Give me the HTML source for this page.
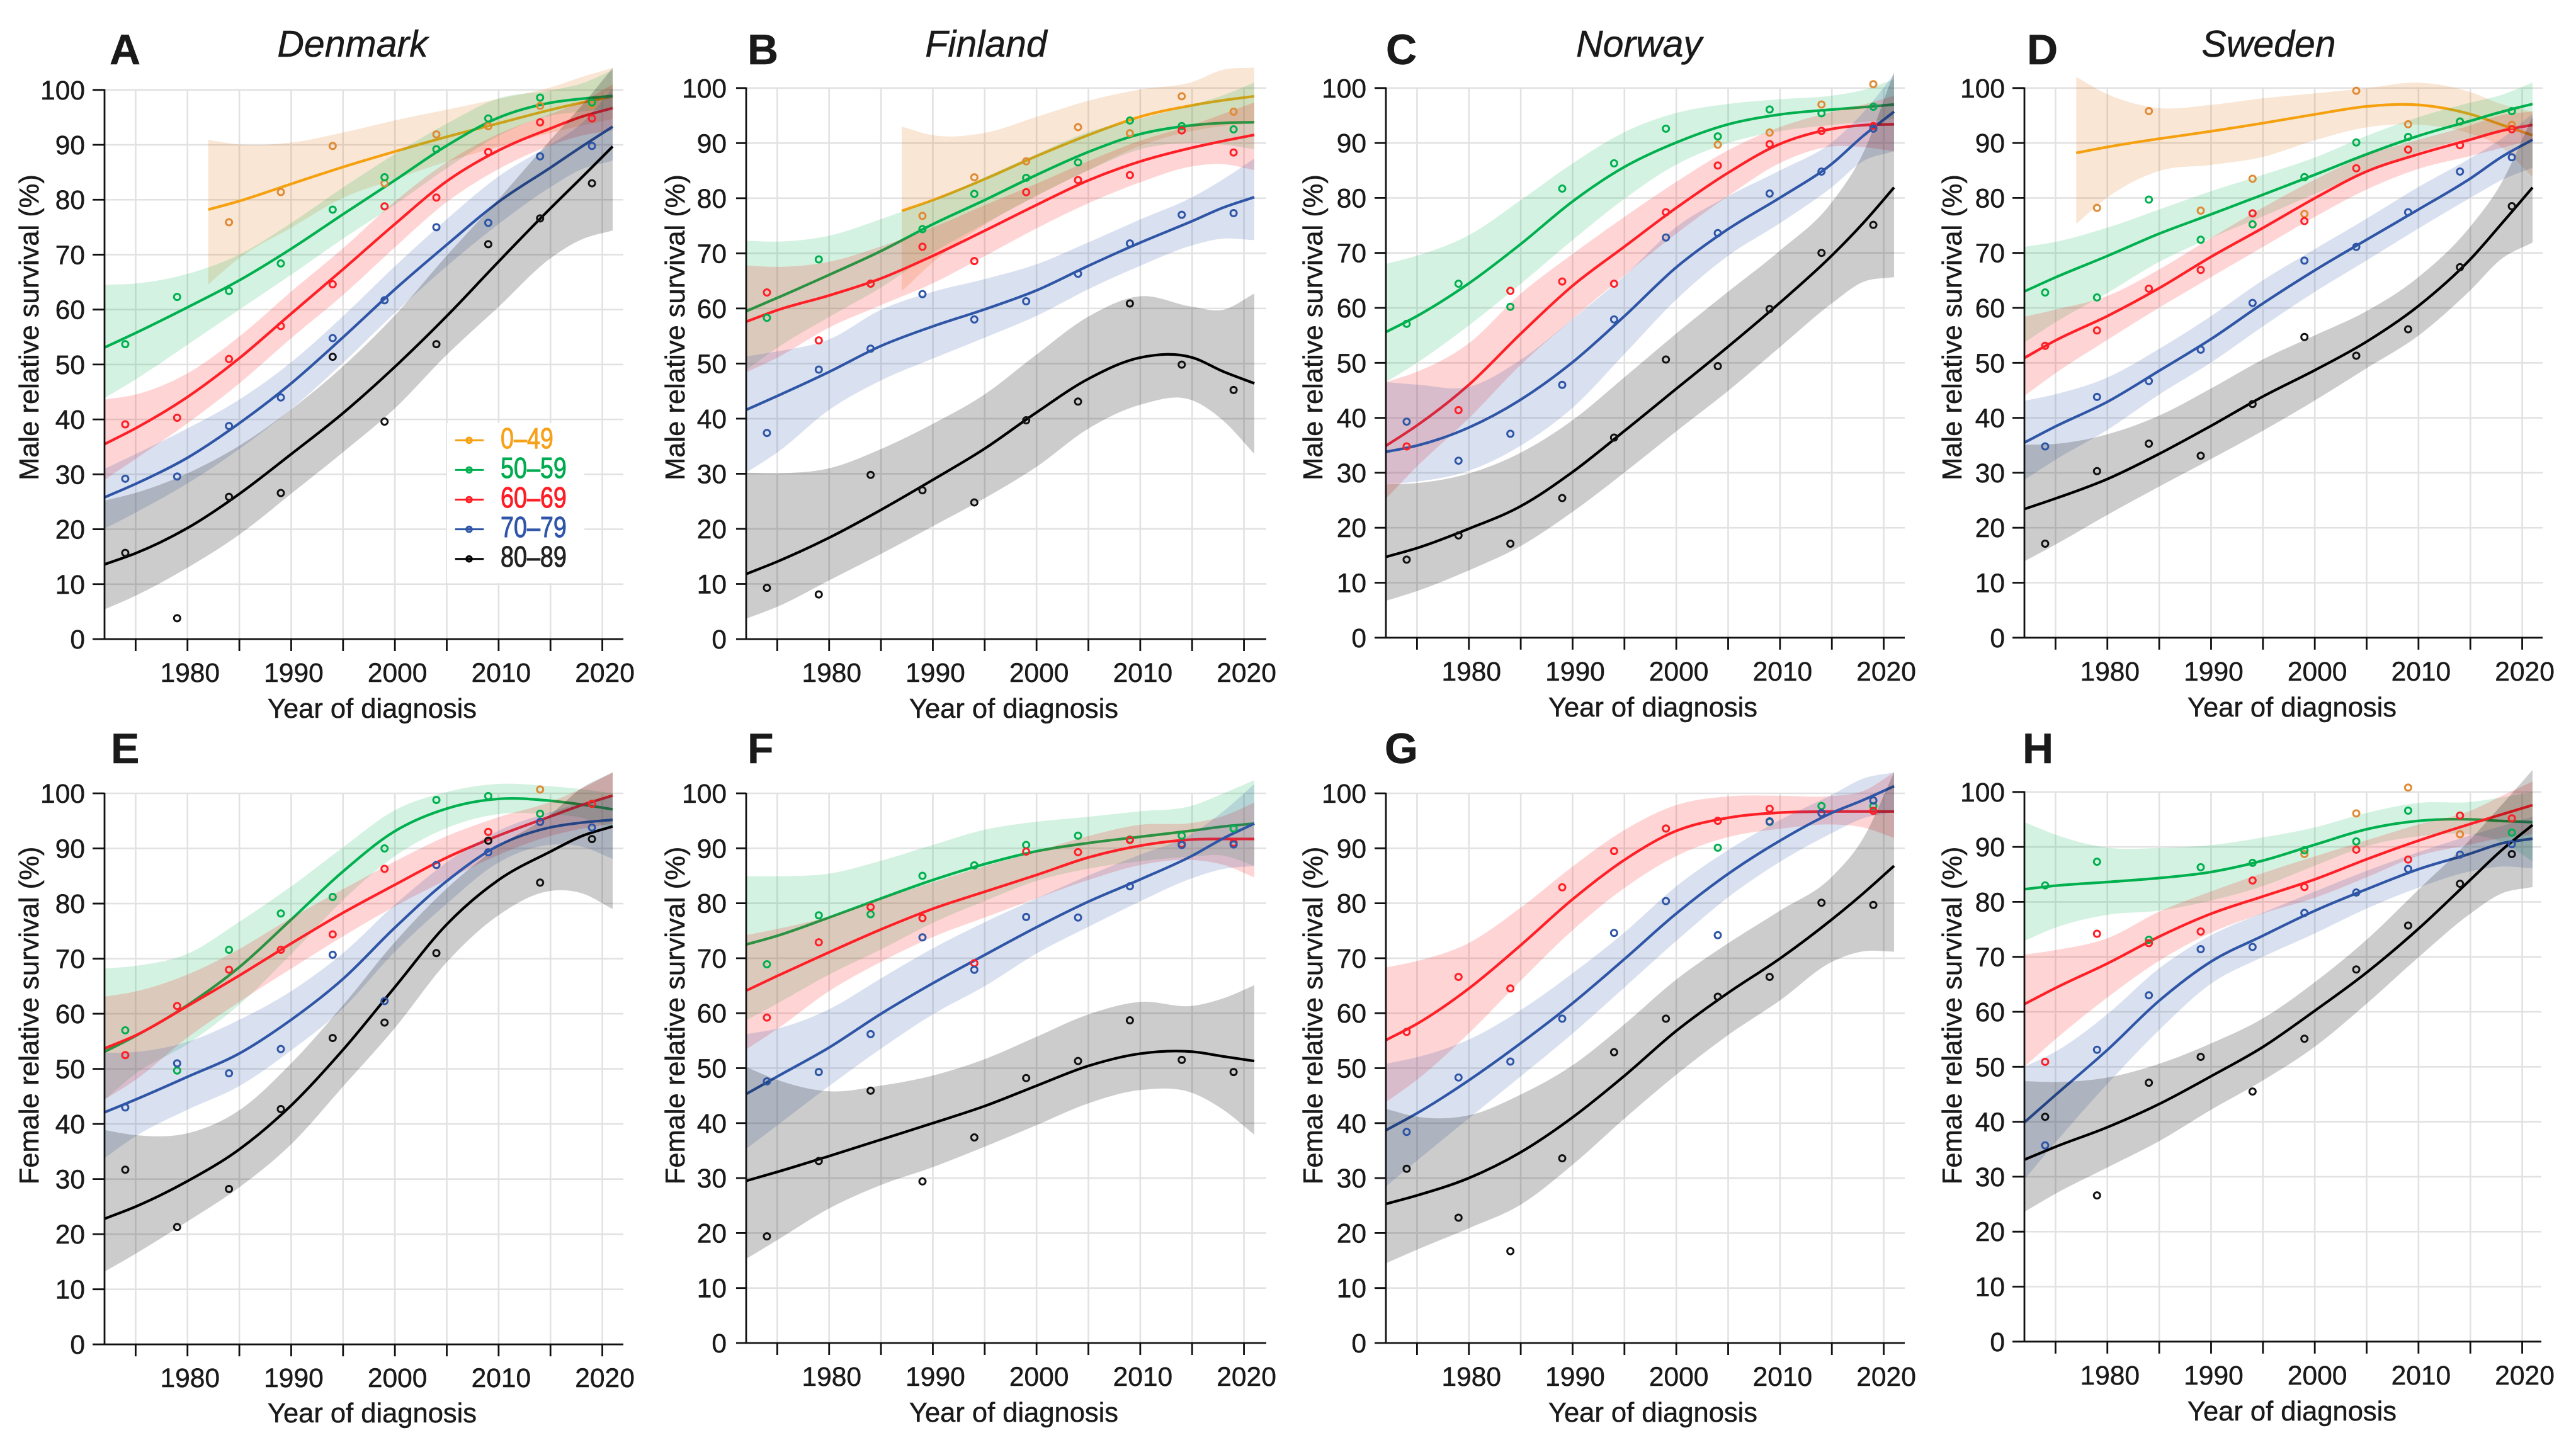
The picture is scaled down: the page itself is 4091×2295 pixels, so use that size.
<!DOCTYPE html>
<html lang="en">
<head>
<meta charset="utf-8">
<title>Relative survival by age group, year of diagnosis and country</title>
<style>
html,body{margin:0;padding:0;background:#fff;width:4091px;height:2295px;overflow:hidden}
svg{display:block;font-family:"Liberation Sans",Arial,sans-serif}
text{fill:#1a1a1a;stroke:#1a1a1a;stroke-width:.5px}
.tick{font-size:42.5px}
.axt{font-size:43.5px;text-anchor:middle}
.ttl{font-size:59px;font-style:italic;text-anchor:middle}
.let{font-size:68px;font-weight:bold}
</style>
</head>
<body>
<svg id="figure" xmlns="http://www.w3.org/2000/svg" width="4091" height="2295" viewBox="0 0 4091 2295">
<g id="plots"></g>
<g id="legend"></g>
<g>
<text class="let" x="174" y="102">A</text>
<text class="let" x="1187" y="102">B</text>
<text class="let" x="2201" y="102">C</text>
<text class="let" x="3219" y="102">D</text>
<text class="let" x="176" y="1212">E</text>
<text class="let" x="1187" y="1212">F</text>
<text class="let" x="2199" y="1212">G</text>
<text class="let" x="3212" y="1212">H</text>
<text class="ttl" x="560" y="90">Denmark</text>
<text class="ttl" x="1566" y="90">Finland</text>
<text class="ttl" x="2603" y="90">Norway</text>
<text class="ttl" x="3603" y="90">Sweden</text>
<text class="axt" transform="translate(61,520) rotate(-90)">Male relative survival (%)</text>
<text class="axt" transform="translate(1087,520) rotate(-90)">Male relative survival (%)</text>
<text class="axt" transform="translate(2100,520) rotate(-90)">Male relative survival (%)</text>
<text class="axt" transform="translate(3115,520) rotate(-90)">Male relative survival (%)</text>
<text class="axt" transform="translate(61,1613) rotate(-90)">Female relative survival (%)</text>
<text class="axt" transform="translate(1087,1613) rotate(-90)">Female relative survival (%)</text>
<text class="axt" transform="translate(2100,1613) rotate(-90)">Female relative survival (%)</text>
<text class="axt" transform="translate(3115,1613) rotate(-90)">Female relative survival (%)</text>
<text class="axt" x="591" y="1140">Year of diagnosis</text>
<text class="axt" x="1610" y="1140">Year of diagnosis</text>
<text class="axt" x="2625" y="1138">Year of diagnosis</text>
<text class="axt" x="3640" y="1138">Year of diagnosis</text>
<text class="axt" x="591" y="2259">Year of diagnosis</text>
<text class="axt" x="1610" y="2258">Year of diagnosis</text>
<text class="axt" x="2625" y="2258">Year of diagnosis</text>
<text class="axt" x="3640" y="2256">Year of diagnosis</text>
</g>
</svg>
<script>
// ---------- shared axis data ----------
const curveYears = [1972,1975,1980,1985,1990,1995,2000,2005,2010,2015,2018,2021];
const pointYears = [1974,1979,1984,1989,1994,1999,2004,2009,2014,2019];
const yTickValues = [0,10,20,30,40,50,60,70,80,90,100];
const xTickValues = [1975,1980,1985,1990,1995,2000,2005,2010,2015,2020];
const xTickLabels = [1980,1990,2000,2010,2020];
const legendLabels = ['0–49','50–59','60–69','70–79','80–89'];

// ---------- Denmark, male (A) ----------
const dkMaleOrangeYears = [1982,1985,1990,1995,2000,2005,2010,2015,2018,2021];
const dkMaleOrangeMid = [78.2,79.7,82.9,86,88.8,91.5,93.9,96.4,97.7,98.8];
const dkMaleOrangeUp = [90.9,89.9,90.2,92.2,94.5,96.4,98.4,100.3,102.4,104];
const dkMaleOrangeLo = [64.6,69.7,74.8,80.7,83.7,87,89.7,92.2,93.5,94.7];
const dkMaleOrangePts = [null,null,75.9,81.4,89.8,83,91.9,93.4,97.1,97.3];
const dkMaleGreenMid = [53.1,55.7,60.4,65.2,71,77.4,83.5,90,95.3,97.8,98.4,98.9];
const dkMaleGreenUp = [64.5,64.6,66.3,69.7,75.7,82.3,88.4,93.9,99,99.8,101,103.6];
const dkMaleGreenLo = [43.9,47.2,53.6,60,66.3,73,79,85.8,92,95.6,96,96.7];
const dkMaleGreenPts = [53.7,62.3,63.4,68.4,78.2,84.1,89.2,94.8,98.6,97.7];
const dkMaleRedMid = [35.5,38.3,43.9,51,59.3,67.3,75.6,83.7,89.2,93,95.2,96.7];
const dkMaleRedUp = [43.6,44.3,48,54.9,63.4,71,79.9,87.1,92.2,95.6,97.7,101];
const dkMaleRedLo = [29,32.8,39.2,46.4,54.9,62.5,71.4,79.9,85.8,90,91.8,92.6];
const dkMaleRedPts = [39.1,40.3,51,57,64.6,78.8,80.4,88.7,94.1,94.8];
const dkMaleBlueMid = [25.8,28.2,32.8,39.2,46.4,54.9,63.8,71.8,79.9,85.8,89.7,93.3];
const dkMaleBlueUp = [31,33.7,38.3,43.4,50.2,58.7,68,76.5,84.6,90,93.5,100.3];
const dkMaleBlueLo = [20.1,23,28.2,34.5,41.7,50.2,59.5,68,75.7,82.4,85.8,87.1];
const dkMaleBluePts = [29.2,29.6,38.8,44,54.8,61.7,75,75.8,87.9,89.8];
const dkMaleBlackMid = [13.6,15.5,20,26.3,33.7,41,49.5,58.7,68.8,78.5,84,89.7];
const dkMaleBlackUp = [25.2,26.5,30,35,41.7,49.5,58.7,70,80,91,97,104];
const dkMaleBlackLo = [5.4,7.8,12.9,18.8,26.5,34,41.7,52,60.4,69.7,73,74.4];
const dkMaleBlackPts = [15.7,3.8,25.9,26.6,51.4,39.6,53.7,71.9,76.6,83];

// ---------- Finland, male (B) ----------
const fiMaleOrangeYears = [1987,1990,1995,2000,2005,2010,2015,2018,2021];
const fiMaleOrangeMid = [77.7,79.6,83.4,87.7,91.5,95,96.9,97.8,98.5];
const fiMaleOrangeUp = [93,91.1,91.5,94.8,97.8,99.9,100.7,103.7,103.7];
const fiMaleOrangeLo = [63.1,68.6,75.4,80.5,85.1,89.8,92.3,93.2,93.6];
const fiMaleOrangePts = [null,null,null,76.8,83.8,86.7,92.9,91.8,98.5,95.7];
const fiMaleGreenMid = [59.5,61.9,66.1,70.3,75.4,79.6,84.3,88.5,91.9,93.3,93.7,93.8];
const fiMaleGreenUp = [72.3,72,72.9,76.2,79.6,83.8,88,92.3,94.4,96.9,98.6,101];
const fiMaleGreenLo = [48.8,53,58.5,63.6,70.3,75.4,80.5,85.1,89.3,90.2,89.8,88.9];
const fiMaleGreenPts = [58.3,68.9,64.5,74.4,80.8,83.7,86.5,94.1,93.1,92.5];
const fiMaleRedMid = [57.6,59.8,62.3,65.3,69.5,74.1,78.8,83.4,86.8,89.2,90.4,91.5];
const fiMaleRedUp = [67.8,67.4,68.2,71.2,74.6,78.8,82.6,86.8,90.6,93.2,95.3,97.4];
const fiMaleRedLo = [48.4,50.9,56.8,60.6,64.4,69.5,74.6,79.2,83,86,86.4,85.1];
const fiMaleRedPts = [62.9,54.2,64.5,71.2,68.6,81.1,83.3,84.2,92.3,88.3];
const fiMaleBlueMid = [41.6,44.1,48.4,53.4,56.8,59.8,63.1,67.8,72,75.8,78.4,80.2];
const fiMaleBlueUp = [51.3,52.2,53.8,60.2,63.1,65.3,67.8,72,76.2,80,83.4,87.2];
const fiMaleBlueLo = [30.2,33.6,42,47.1,50.9,54.7,58.5,63.6,67.8,71.6,72.9,72.4];
const fiMaleBluePts = [37.4,48.9,52.7,62.6,58,61.3,66.3,71.8,77,77.3];
const fiMaleBlackMid = [11.8,14,18.3,23.4,28.9,34.4,41.2,47.5,51.6,51.6,48.4,46.4];
const fiMaleBlackUp = [30.2,30,30.6,34.4,39,44.1,51.7,58.9,63.1,60.2,59.2,62.7];
const fiMaleBlackLo = [3.7,5.7,10.7,15.4,20.5,25.5,31,38.6,42.9,44.1,39.9,33.6];
const fiMaleBlackPts = [9.3,8.1,29.8,27,24.8,39.7,43.1,60.9,49.8,45.2];

// ---------- Norway, male (C) ----------
const noMaleOrangePts = [null,null,null,null,null,null,89.7,91.9,97,100.7];
const noMaleGreenMid = [55.6,58.4,64.3,71.5,79.6,85.9,90.2,93.6,95.3,96.1,96.5,97];
const noMaleGreenUp = [68,69.4,72.8,79.6,86.4,92.3,95.7,97.2,98,98.5,99.5,101.6];
const noMaleGreenLo = [46.5,49.9,56.7,64.3,72.4,80,86.4,90.2,92.3,93.3,93.8,94.4];
const noMaleGreenPts = [57.1,64.4,60.2,81.7,86.3,92.6,91.2,96.1,95.4,96.6];
const noMaleRedMid = [34.9,38.5,45.7,55.4,64.3,71.1,78.3,84.7,90.2,92.7,93.3,93.4];
const noMaleRedUp = [46.5,48.2,52.9,63,69.8,76.6,83,88.9,93.1,95.7,96.9,98.6];
const noMaleRedLo = [25.3,31.3,39.7,49.9,58,66,73.6,80.4,86.8,89.7,89.3,88.5];
const noMaleRedPts = [34.8,41.4,63.1,64.8,64.4,77.4,85.9,89.8,92.2,93.1];
const noMaleBlueMid = [33.8,34.8,38,43.1,49.9,58.4,67.7,74.5,80,85.9,91.4,95.7];
const noMaleBlueUp = [46.5,46.1,44.8,50.3,58,65.6,75.3,80.4,85,89.7,95.3,102.5];
const noMaleBlueLo = [27.9,28.3,30,34.7,41.4,51.6,61.8,69.8,75.3,81.7,87.2,88.5];
const noMaleBluePts = [39.3,32.2,37.1,46,57.9,72.8,73.6,80.8,84.8,92.6];
const noMaleBlackMid = [14.7,16.2,19.8,23.6,30,37.6,45.3,52.9,60.9,69.4,75.3,81.9];
const noMaleBlackUp = [27.9,28,29.6,33.4,39.3,47.4,55.4,63,70.3,78.7,87.2,102.9];
const noMaleBlackLo = [6.7,8.4,12.2,16.4,22.8,30,37.6,44.8,52.9,60.9,65.2,65.6];
const noMaleBlackPts = [14.2,18.6,17.1,25.4,36.4,50.6,49.4,59.8,70,75.1];

// ---------- Sweden, male (D) ----------
const seMaleOrangeYears = [1977,1980,1985,1990,1995,2000,2005,2010,2015,2018,2021];
const seMaleOrangeMid = [88.2,89.3,90.8,92.1,93.6,95.2,96.8,97.2,95.4,93.3,91.4];
const seMaleOrangeUp = [102,98.6,95.9,96.9,98.2,99,99.9,101.4,99.5,96.9,95.7];
const seMaleOrangeLo = [75.3,80.4,85.5,85.9,87.2,90.6,93.1,93.6,91.9,89.7,83.8];
const seMaleOrangePts = [null,78.2,95.8,77.7,83.5,77.1,99.5,93.4,93.9,93.3];
const seMaleGreenMid = [63,65.6,69.4,73.6,77,80.6,84.2,88,91.4,94,95.7,97.1];
const seMaleGreenUp = [71.1,71.9,74.5,77.9,81.3,84.2,87.2,91.4,94.8,97.4,98.6,101];
const seMaleGreenLo = [53.7,57.5,62.6,68.6,72.8,76.6,80.8,84.7,88.5,91,92.3,93.1];
const seMaleGreenPts = [62.8,61.9,79.7,72.4,75.2,83.8,90.1,91.1,93.9,95.8];
const seMaleRedMid = [50.9,54.2,58.4,63.5,69.4,74.5,80,85.1,88,90.6,92.3,93.3];
const seMaleRedUp = [58.4,59.7,61.8,66.9,72.8,78.3,83.4,88,90.6,93.1,95.3,95.7];
const seMaleRedLo = [44,48.2,54.2,60.1,65.6,71.1,76.6,81.7,85.5,87.6,89.1,90.6];
const seMaleRedPts = [53.1,55.9,63.5,66.9,77.2,75.8,85.4,88.8,89.6,92.5];
const seMaleBlueMid = [35.5,38.5,42.7,48.6,54.2,60.9,66.9,72.4,77.9,83.4,87.6,90.6];
const seMaleBlueUp = [43.1,44.2,47,52.5,58.4,65.2,70.7,76.2,82.1,87.2,90.6,95.3];
const seMaleBlueLo = [28.7,32.5,37.6,44.4,49.9,56.7,63,68.6,74.5,80,83.4,85.5];
const seMaleBluePts = [34.8,43.8,46.7,52.4,60.9,68.6,71.1,77.4,84.8,87.4];
const seMaleBlackMid = [23.4,25.3,28.7,33.4,38.5,44,48.6,53.7,60.1,68.6,75.3,81.9];
const seMaleBlackUp = [35.1,35.1,36.8,40.2,45.3,50.8,55,59.2,65.2,74.5,82.1,94.8];
const seMaleBlackLo = [13.9,16.9,22.4,27.5,32.5,37.6,43.1,49.1,54.6,63,69.4,71.9];
const seMaleBlackPts = [17.1,30.3,35.3,33.1,42.5,54.7,51.3,56.1,67.4,78.5];

// ---------- Denmark, female (E) ----------
const dkFemaleOrangePts = [null,null,null,null,null,null,null,null,100.7,98.1];
const dkFemaleGreenMid = [53.1,55.9,61.4,68.2,77.1,86,93.6,97.5,99.3,98.7,98,97.1];
const dkFemaleGreenUp = [68.2,68.6,70.3,76.7,83,90.2,97.5,100.4,102,101.3,100.8,100];
const dkFemaleGreenLo = [44.4,49.5,54.2,61.4,70.7,80.9,89,94,96.6,96.2,95.8,93.6];
const dkFemaleGreenPts = [57,49.7,71.6,78.2,81.2,90,98.8,99.5,96.3,98.1];
const dkFemaleRedMid = [53.7,55.9,61.4,66.9,72.8,78.4,83.4,88.5,92.4,95.8,97.9,99.6];
const dkFemaleRedUp = [63.1,63.9,66.9,71.6,77.5,82.6,87.7,92.4,95.8,98.3,100.8,103.8];
const dkFemaleRedLo = [44.4,47.8,55.9,62.2,68.2,74.1,79.6,84.3,89,92.4,93.6,94.5];
const dkFemaleRedPts = [52.5,61.4,68,71.6,74.4,86.3,87,93,94.8,98.1];
const dkFemaleBlueMid = [42.1,44.4,48.6,52.5,58.8,66,75.8,84.3,91,94,94.7,95.2];
const dkFemaleBlueUp = [52.9,52.9,54.6,58.8,63.9,70.7,80,87.7,93.6,96.6,98.3,99.6];
const dkFemaleBlueLo = [33.8,38,42.7,46.5,53.3,60.5,71.6,80,88.1,91,90.6,88.1];
const dkFemaleBluePts = [43,51,49.2,53.6,70.7,62.3,87,89.3,94.8,93.8];
const dkFemaleBlackMid = [22.8,24.9,29.5,35.1,43.1,53.3,64.8,76.7,84.7,89.4,92.4,94];
const dkFemaleBlackUp = [38.9,37.8,37.8,41.9,50.8,61.4,73.3,83,90.7,95.8,101.3,103.8];
const dkFemaleBlackLo = [13.2,16.4,22.3,28.3,35.9,46.9,57.1,69.9,78.4,82.8,82.2,79];
const dkFemaleBlackPts = [31.7,21.3,28.2,42.7,55.6,58.4,71,91.4,83.8,91.7];

// ---------- Finland, female (F) ----------
const fiFemaleGreenMid = [72.5,74,77.4,80.9,84.3,87.2,89.6,91,92.1,93.2,94,94.5];
const fiFemaleGreenUp = [84.9,84.9,85.1,87.7,90.6,93.6,94.9,95.7,96.8,97.4,100,102.4];
const fiFemaleGreenLo = [58.7,61.7,67.2,71.5,76.6,80.4,84.3,86.4,87.7,88.5,89,86.8];
const fiFemaleGreenPts = [68.9,77.8,78,85,86.9,90.6,92.3,91.6,92.3,93.6];
const fiFemaleRedMid = [64.1,66.8,71.1,75.3,79.1,82.1,85.1,88.5,90.6,91.7,91.7,91.7];
const fiFemaleRedUp = [74.2,75.3,77.4,80.9,83.8,86.8,89.4,92.3,94.6,94.4,95.7,98.3];
const fiFemaleRedLo = [53.4,57,64.3,69.4,74,77.4,80.9,84.3,87.2,88.1,87.2,84.7];
const fiFemaleRedPts = [59.2,72.9,79.3,77.3,69.1,89.4,89.3,91.5,90.8,91];
const fiFemaleBlueMid = [45.3,48.5,53.6,60,65.5,70.6,75.7,80.4,84.3,88.5,91.9,94.5];
const fiFemaleBlueUp = [56.2,57,60.4,66.4,71.9,76.6,80.9,85.1,88.9,92.3,96.6,101.7];
const fiFemaleBlueLo = [35.3,39.6,46.8,53.6,60,64.7,71.1,75.7,80.4,84.7,86.4,86.8];
const fiFemaleBluePts = [47.6,49.3,56.2,73.8,67.9,77.5,77.4,83.1,90.6,90.7];
const fiFemaleBlackMid = [29.5,31.1,34,37,40,43,46.8,50.6,52.9,53.2,52.1,51.3];
const fiFemaleBlackUp = [50.2,47.7,45.3,46.8,48.5,51.5,55.7,60,62.6,60.9,62.6,65.1];
const fiFemaleBlackLo = [15.3,18.7,24.7,28.9,31.9,35.7,39.6,43.8,46.4,46,42.6,37.9];
const fiFemaleBlackPts = [19.4,33.1,45.9,29.4,37.4,48.2,51.3,58.7,51.5,49.3];

// ---------- Norway, female (G) ----------
const noFemaleGreenPts = [null,null,null,null,null,93.6,90.1,94.8,97.7,97.7];
const noFemaleRedMid = [55.1,57.9,64.3,72.3,80.9,88.1,93.6,95.7,96.6,96.7,96.7,96.7];
const noFemaleRedUp = [68.3,69.4,72.3,79.1,86.8,93.6,98.3,99.6,99.6,99.4,100,103.8];
const noFemaleRedLo = [43.8,47.7,56.2,66,75.3,83,88.9,92.3,93.6,94.5,94,91.9];
const noFemaleRedPts = [56.6,66.6,64.5,82.9,89.5,93.6,95,97.2,96.4,96.8];
const noFemaleBlueMid = [38.7,41.7,47.7,54.5,61.7,69.8,78.3,85.5,91.5,96.6,98.7,101.3];
const noFemaleBlueUp = [50.8,51.9,54.9,60.4,67.2,74.5,83.4,89.8,95.3,99.6,103,103.8];
const noFemaleBlueLo = [28.5,33.2,40.9,48.5,56.2,64.7,73.2,81.3,87.7,92.8,95.7,96.6];
const noFemaleBluePts = [38.4,48.3,51.2,59,74.6,80.4,74.2,94.9,96.4,98.7];
const noFemaleBlackMid = [25.3,26.8,29.8,34.5,40.9,48.5,57,63.8,69.8,77,81.7,86.8];
const noFemaleBlackUp = [42.6,40.9,40.9,45.1,50.2,57.9,66.4,72.8,78.7,84.3,91,103.8];
const noFemaleBlackLo = [14.5,17,20.9,24.7,32.3,40.9,48.9,56.2,62.1,69.8,71.5,71.2];
const noFemaleBlackPts = [31.7,22.8,16.7,33.6,52.9,59,63,66.6,80.1,79.7];

// ---------- Sweden, female (H) ----------
const seFemaleOrangePts = [null,null,null,null,null,88.7,96.1,100.8,92.3,95.2];
const seFemaleGreenMid = [82.3,83,83.6,84.3,85.3,87.4,90.4,93.4,94.9,95.1,94.7,94.5];
const seFemaleGreenUp = [94.5,92.1,89.5,89.8,90.2,91.7,93.4,96.3,98.3,98,99,100];
const seFemaleGreenLo = [72.9,75.5,77.9,78.2,80.2,82.7,86.6,90.4,92.1,92.5,91.2,87.4];
const seFemaleGreenPts = [83,87.3,73.1,86.3,87.1,89.4,91,96.6,95.7,92.6];
const seFemaleRedMid = [61.4,64.4,68.7,73.8,78,81,84,87.8,91.2,94.2,95.9,97.6];
const seFemaleRedUp = [70.4,71.2,72.9,78.5,81.9,85.3,88.3,91.2,94.2,96.3,99.3,101.9];
const seFemaleRedLo = [50,55.1,62.7,69.5,74.6,78,80.6,84.4,88.7,90.4,91.7,92.3];
const seFemaleRedPts = [50.9,74.2,72.5,74.6,83.9,82.7,89.5,87.7,95.7,95.2];
const seFemaleBlueMid = [39.9,44.9,52.9,62.3,69.5,73.8,78.5,82.3,86.1,88.7,90.8,91.5];
const seFemaleBlueUp = [50,52.5,59.3,68.3,74.2,78,81.9,85.7,89.1,92.1,93.8,95.5];
const seFemaleBlueLo = [29.5,36.3,47,56.8,65.7,70,74.2,78.9,82.7,85.7,86.6,86.1];
const seFemaleBluePts = [35.7,53.1,63,71.4,71.8,78,81.7,86,88.6,90.5];
const seFemaleBlackMid = [33.1,35.5,38.9,43.1,48.3,53.4,60.2,67,75,84,89.5,94];
const seFemaleBlackUp = [47.4,47.1,47.8,50.4,54.2,58.5,65.3,72.9,82.3,91.2,97.6,104];
const seFemaleBlackLo = [23.6,27,31.7,36.3,42.3,47.4,53.4,61.4,70,78,81.9,82.7];
const seFemaleBlackPts = [40.9,26.6,47.1,51.8,45.5,55.1,67.7,75.7,83.3,88.7];

// ---------- styling for each age group ----------
const groupStyle = {
  orange:{age:'0-49', line:'#f5a00f', band:'#e08028', bandOpacity:0.2, point:'#e08a35'},
  green:{age:'50-59', line:'#00b04f', band:'#00b050', bandOpacity:0.17, point:'#00b04f'},
  red:{age:'60-69', line:'#ff1f26', band:'#ff0000', bandOpacity:0.17, point:'#ff1f26'},
  blue:{age:'70-79', line:'#2e55a6', band:'#2f55a5', bandOpacity:0.18, point:'#2e55a6'},
  black:{age:'80-89', line:'#000000', band:'#000000', bandOpacity:0.2, point:'#111111'}
};

const panelList = [
 {id:'a', axisX:166, tickLeft:147, right:990, top:142.8, bottom:1015, series:[
  {g:'orange', years:dkMaleOrangeYears, mid:dkMaleOrangeMid, up:dkMaleOrangeUp, lo:dkMaleOrangeLo, pts:dkMaleOrangePts},
  {g:'green', years:curveYears, mid:dkMaleGreenMid, up:dkMaleGreenUp, lo:dkMaleGreenLo, pts:dkMaleGreenPts},
  {g:'red', years:curveYears, mid:dkMaleRedMid, up:dkMaleRedUp, lo:dkMaleRedLo, pts:dkMaleRedPts},
  {g:'blue', years:curveYears, mid:dkMaleBlueMid, up:dkMaleBlueUp, lo:dkMaleBlueLo, pts:dkMaleBluePts},
  {g:'black', years:curveYears, mid:dkMaleBlackMid, up:dkMaleBlackUp, lo:dkMaleBlackLo, pts:dkMaleBlackPts}]},
 {id:'b', axisX:1185, tickLeft:1169, right:2011, top:139.8, bottom:1015, series:[
  {g:'orange', years:fiMaleOrangeYears, mid:fiMaleOrangeMid, up:fiMaleOrangeUp, lo:fiMaleOrangeLo, pts:fiMaleOrangePts},
  {g:'green', years:curveYears, mid:fiMaleGreenMid, up:fiMaleGreenUp, lo:fiMaleGreenLo, pts:fiMaleGreenPts},
  {g:'red', years:curveYears, mid:fiMaleRedMid, up:fiMaleRedUp, lo:fiMaleRedLo, pts:fiMaleRedPts},
  {g:'blue', years:curveYears, mid:fiMaleBlueMid, up:fiMaleBlueUp, lo:fiMaleBlueLo, pts:fiMaleBluePts},
  {g:'black', years:curveYears, mid:fiMaleBlackMid, up:fiMaleBlackUp, lo:fiMaleBlackLo, pts:fiMaleBlackPts}]},
 {id:'c', axisX:2201, tickLeft:2183, right:3025, top:139.8, bottom:1012.8, series:[
  {g:'orange', pts:noMaleOrangePts},
  {g:'green', years:curveYears, mid:noMaleGreenMid, up:noMaleGreenUp, lo:noMaleGreenLo, pts:noMaleGreenPts},
  {g:'red', years:curveYears, mid:noMaleRedMid, up:noMaleRedUp, lo:noMaleRedLo, pts:noMaleRedPts},
  {g:'blue', years:curveYears, mid:noMaleBlueMid, up:noMaleBlueUp, lo:noMaleBlueLo, pts:noMaleBluePts},
  {g:'black', years:curveYears, mid:noMaleBlackMid, up:noMaleBlackUp, lo:noMaleBlackLo, pts:noMaleBlackPts}]},
 {id:'d', axisX:3215, tickLeft:3196, right:4038, top:139.8, bottom:1012.8, series:[
  {g:'orange', years:seMaleOrangeYears, mid:seMaleOrangeMid, up:seMaleOrangeUp, lo:seMaleOrangeLo, pts:seMaleOrangePts},
  {g:'green', years:curveYears, mid:seMaleGreenMid, up:seMaleGreenUp, lo:seMaleGreenLo, pts:seMaleGreenPts},
  {g:'red', years:curveYears, mid:seMaleRedMid, up:seMaleRedUp, lo:seMaleRedLo, pts:seMaleRedPts},
  {g:'blue', years:curveYears, mid:seMaleBlueMid, up:seMaleBlueUp, lo:seMaleBlueLo, pts:seMaleBluePts},
  {g:'black', years:curveYears, mid:seMaleBlackMid, up:seMaleBlackUp, lo:seMaleBlackLo, pts:seMaleBlackPts}]},
 {id:'e', axisX:166, tickLeft:147, right:990, top:1260, bottom:2135.2, series:[
  {g:'orange', pts:dkFemaleOrangePts},
  {g:'green', years:curveYears, mid:dkFemaleGreenMid, up:dkFemaleGreenUp, lo:dkFemaleGreenLo, pts:dkFemaleGreenPts},
  {g:'red', years:curveYears, mid:dkFemaleRedMid, up:dkFemaleRedUp, lo:dkFemaleRedLo, pts:dkFemaleRedPts},
  {g:'blue', years:curveYears, mid:dkFemaleBlueMid, up:dkFemaleBlueUp, lo:dkFemaleBlueLo, pts:dkFemaleBluePts},
  {g:'black', years:curveYears, mid:dkFemaleBlackMid, up:dkFemaleBlackUp, lo:dkFemaleBlackLo, pts:dkFemaleBlackPts}]},
 {id:'f', axisX:1185, tickLeft:1169, right:2011, top:1260, bottom:2133, series:[
  {g:'green', years:curveYears, mid:fiFemaleGreenMid, up:fiFemaleGreenUp, lo:fiFemaleGreenLo, pts:fiFemaleGreenPts},
  {g:'red', years:curveYears, mid:fiFemaleRedMid, up:fiFemaleRedUp, lo:fiFemaleRedLo, pts:fiFemaleRedPts},
  {g:'blue', years:curveYears, mid:fiFemaleBlueMid, up:fiFemaleBlueUp, lo:fiFemaleBlueLo, pts:fiFemaleBluePts},
  {g:'black', years:curveYears, mid:fiFemaleBlackMid, up:fiFemaleBlackUp, lo:fiFemaleBlackLo, pts:fiFemaleBlackPts}]},
 {id:'g', axisX:2201, tickLeft:2183, right:3025, top:1260, bottom:2133, series:[
  {g:'green', pts:noFemaleGreenPts},
  {g:'red', years:curveYears, mid:noFemaleRedMid, up:noFemaleRedUp, lo:noFemaleRedLo, pts:noFemaleRedPts},
  {g:'blue', years:curveYears, mid:noFemaleBlueMid, up:noFemaleBlueUp, lo:noFemaleBlueLo, pts:noFemaleBluePts},
  {g:'black', years:curveYears, mid:noFemaleBlackMid, up:noFemaleBlackUp, lo:noFemaleBlackLo, pts:noFemaleBlackPts}]},
 {id:'h', axisX:3215, tickLeft:3196, right:4036, top:1257.8, bottom:2130.8, series:[
  {g:'orange', pts:seFemaleOrangePts},
  {g:'green', years:curveYears, mid:seFemaleGreenMid, up:seFemaleGreenUp, lo:seFemaleGreenLo, pts:seFemaleGreenPts},
  {g:'red', years:curveYears, mid:seFemaleRedMid, up:seFemaleRedUp, lo:seFemaleRedLo, pts:seFemaleRedPts},
  {g:'blue', years:curveYears, mid:seFemaleBlueMid, up:seFemaleBlueUp, lo:seFemaleBlueLo, pts:seFemaleBluePts},
  {g:'black', years:curveYears, mid:seFemaleBlackMid, up:seFemaleBlackUp, lo:seFemaleBlackLo, pts:seFemaleBlackPts}]}
];

const NS = 'http://www.w3.org/2000/svg';
const PX_PER_YEAR = 16.47;
const SMOOTHING = 0.25;

function mk(parent, tag, attrs){
  const el = document.createElementNS(NS, tag);
  for (const k in attrs) el.setAttribute(k, attrs[k]);
  parent.appendChild(el);
  return el;
}

// light smoothing so that reading noise does not show up as bumps
function relax(px, py){
  return py.map(function(y, i){
    if (i === 0 || i === py.length - 1) return y;
    const t = (px[i]-px[i-1])/(px[i+1]-px[i-1]);
    return (1-SMOOTHING)*y + SMOOTHING*(py[i-1] + t*(py[i+1]-py[i-1]));
  });
}

// smooth cubic Hermite through the given screen points
function curveSegments(px, py){
  const n = px.length, m = new Array(n);
  const sec = [];
  for (let i = 0; i < n - 1; i++) sec.push((py[i+1]-py[i])/(px[i+1]-px[i]));
  m[0] = sec[0];
  m[n-1] = sec[n-2];
  for (let i = 1; i < n - 1; i++){
    const h0 = px[i]-px[i-1], h1 = px[i+1]-px[i];
    m[i] = (sec[i-1]*h1 + sec[i]*h0)/(h0+h1);
  }
  let d = '';
  for (let i = 0; i < n - 1; i++){
    const h = (px[i+1]-px[i])/3;
    d += 'C' + (px[i]+h).toFixed(1) + ' ' + (py[i]+m[i]*h).toFixed(1) + ' ' +
         (px[i+1]-h).toFixed(1) + ' ' + (py[i+1]-m[i+1]*h).toFixed(1) + ' ' +
         px[i+1].toFixed(1) + ' ' + py[i+1].toFixed(1);
  }
  return d;
}

const plots = document.getElementById('plots');
const defs = mk(plots, 'defs', {});

panelList.forEach(function(p){
  const xScale = function(year){ return p.axisX + (year - 1972) * PX_PER_YEAR; };
  const yScale = function(v){ return p.bottom - v * (p.bottom - p.top) / 100; };

  const group = mk(plots, 'g', {});
  
  

  const clip = mk(defs, 'clipPath', {id:'clip-' + p.id});
  mk(clip, 'rect', {x:p.axisX, y:yScale(104.2), width:p.right - p.axisX, height:p.bottom - yScale(104.2)});

  const grid = mk(group, 'g', {stroke:'#e2e2e2', 'stroke-width':2.6});
  
  
  yTickValues.forEach(function(v){
    if (v === 0) return;
    mk(grid, 'line', {x1:p.axisX, x2:p.right, y1:yScale(v), y2:yScale(v)});
  });
  xTickValues.forEach(function(y){
    mk(grid, 'line', {x1:xScale(y), x2:xScale(y), y1:p.top, y2:p.bottom});
  });

  if (p.id === 'a'){
    const box = mk(group, 'rect', {x:710, y:672, width:218, height:254, fill:'#fff'});
    
    
  }

  const marks = mk(group, 'g', {'clip-path':'url(#clip-' + p.id + ')'});
  
  

  p.series.forEach(function(s){
    const st = groupStyle[s.g];
    if (s.mid){
      const xs = s.years.map(xScale);
      const upY = relax(xs, s.up.map(yScale));
      const loY = relax(xs, s.lo.map(yScale));
      const midY = relax(xs, s.mid.map(yScale));
      const rx = xs.slice().reverse();
      const rl = loY.slice().reverse();
      const bandD = 'M' + xs[0].toFixed(1) + ' ' + upY[0].toFixed(1) + curveSegments(xs, upY) +
        'L' + rx[0].toFixed(1) + ' ' + rl[0].toFixed(1) + curveSegments(rx, rl) + 'Z';
      const band = mk(marks, 'path', {d:bandD, fill:st.band, 'fill-opacity':st.bandOpacity, stroke:'none'});
      
      
      const lineD = 'M' + xs[0].toFixed(1) + ' ' + midY[0].toFixed(1) + curveSegments(xs, midY);
      const line = mk(marks, 'path', {d:lineD, fill:'none', stroke:st.line, 'stroke-width':4.2});
      
      
    }
    s.pts.forEach(function(v, i){
      if (v === null) return;
      const c = mk(group, 'circle', {cx:xScale(pointYears[i]), cy:yScale(v), r:5, fill:'none', stroke:st.point, 'stroke-width':3});
      
      
    });
  });

  const axes = mk(group, 'g', {stroke:'#111', 'stroke-width':2.8});
  
  
  mk(axes, 'line', {x1:p.axisX, x2:p.axisX, y1:p.top - 1, y2:p.bottom + 1});
  mk(axes, 'line', {x1:p.tickLeft, x2:p.right, y1:p.bottom, y2:p.bottom});
  yTickValues.forEach(function(v){
    if (v > 0) mk(axes, 'line', {x1:p.tickLeft, x2:p.axisX, y1:yScale(v), y2:yScale(v)});
    const t = mk(group, 'text', {class:'tick', x:p.axisX - 31, y:yScale(v) + 15, 'text-anchor':'end'});
    t.textContent = v;
    
    
  });
  xTickValues.forEach(function(y){
    mk(axes, 'line', {x1:xScale(y), x2:xScale(y), y1:p.bottom, y2:p.bottom + 19});
  });
  xTickLabels.forEach(function(y){
    const t = mk(group, 'text', {class:'tick', x:xScale(y) + 4, y:p.bottom + 68, 'text-anchor':'middle'});
    t.textContent = y;
    
    
  });
});

// legend (panel A)
const legend = document.getElementById('legend');
const legendKeys = ['orange','green','red','blue','black'];
const legendTextColors = ['#f7a11a','#00ab50','#ff1c24','#2f55a8','#222222'];
legendLabels.forEach(function(label, i){
  const st = groupStyle[legendKeys[i]];
  const y = 699.3 + i * 47.1;
  const entry = mk(legend, 'g', {});
  
  
  mk(entry, 'line', {x1:722.7, x2:768.3, y1:y, y2:y, stroke:st.line, 'stroke-width':3});
  mk(entry, 'circle', {cx:745, cy:y, r:4.4, fill:st.line, 'fill-opacity':0.6, stroke:st.line, 'stroke-width':2.8});
  const t = mk(entry, 'text', {transform:'translate(795,' + (y + 12.5) + ') scale(0.82,1)', 'font-size':46});
  t.style.fill = legendTextColors[i];
  t.style.stroke = legendTextColors[i];
  t.style.strokeWidth = '1px';
  t.textContent = label;
  
  
});
</script>
</body>
</html>
